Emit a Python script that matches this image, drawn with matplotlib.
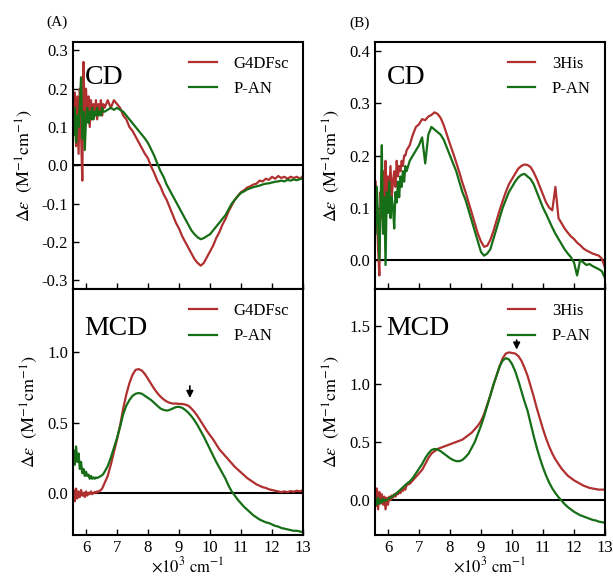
import numpy as np
import matplotlib
matplotlib.use("Agg")
import matplotlib.pyplot as plt

plt.rcParams['font.family'] = ['Liberation Serif', 'DejaVu Serif']
plt.rcParams['mathtext.fontset'] = 'stix'
plt.rcParams['axes.unicode_minus'] = True

# shared wavenumber grid (x10^3 cm^-1)
x_fine = [5.60, 5.64, 5.68, 5.72, 5.76, 5.80, 5.84, 5.88, 5.92, 5.96, 6.00, 6.04, 6.08,
          6.12, 6.16, 6.20, 6.24, 6.28, 6.32, 6.36, 6.40, 6.44, 6.48, 6.52, 6.56]
x_coarse = [round(6.6 + 0.1 * i, 1) for i in range(65)]
wavenumber = x_fine + x_coarse

# (A) CD
cd_g4dfsc = [0.14, 0.19, 0.05, 0.18, 0.03, 0.20, 0.08, -0.04, 0.27, 0.10, 0.20, 0.12, 0.18,
             0.10, 0.17, 0.12, 0.16, 0.13, 0.17, 0.12, 0.16, 0.14, 0.17, 0.13, 0.16,
             0.15, 0.17, 0.15, 0.17, 0.16, 0.15, 0.13, 0.12, 0.10, 0.09, 0.075, 0.06, 0.045, 0.03,
             0.018, -0.003, -0.02, -0.04, -0.055, -0.075, -0.09, -0.11, -0.13, -0.15, -0.165,
             -0.185, -0.20, -0.215, -0.23, -0.245, -0.255, -0.262, -0.255, -0.24, -0.225,
             -0.21, -0.19, -0.175, -0.155, -0.14, -0.12, -0.105, -0.09, -0.08, -0.07,
             -0.065, -0.058, -0.055, -0.05, -0.048, -0.04, -0.042, -0.035, -0.038, -0.03,
             -0.035, -0.028, -0.033, -0.03, -0.035, -0.03, -0.033, -0.03, -0.035, -0.028]
cd_pan_a = [0.08, 0.15, 0.06, 0.13, 0.10, 0.16, 0.23, 0.07, 0.14, 0.04, 0.12, 0.15, 0.11,
            0.14, 0.12, 0.15, 0.12, 0.14, 0.13, 0.15, 0.13, 0.14, 0.13, 0.15, 0.14,
            0.14, 0.145, 0.15, 0.145, 0.15, 0.145, 0.14, 0.13, 0.12, 0.11, 0.10, 0.09, 0.08, 0.07,
            0.058, 0.042, 0.025, 0.005, -0.015, -0.03, -0.05, -0.065, -0.08, -0.095, -0.11,
            -0.125, -0.14, -0.155, -0.17, -0.18, -0.188, -0.193, -0.19, -0.185, -0.18,
            -0.17, -0.16, -0.15, -0.14, -0.13, -0.115, -0.10, -0.09, -0.08, -0.072,
            -0.068, -0.063, -0.06, -0.057, -0.055, -0.053, -0.05, -0.048, -0.047, -0.045,
            -0.043, -0.042, -0.04, -0.042, -0.038, -0.04, -0.037, -0.039, -0.036, -0.035]

# (B) CD
cd_3his = [0.15, 0.10, 0.02, -0.03, 0.13, 0.08, 0.17, 0.10, 0.19, 0.12, 0.16, 0.13, 0.18,
           0.12, 0.15, 0.17, 0.14, 0.19, 0.16, 0.18, 0.17, 0.19, 0.18, 0.20, 0.20,
           0.21, 0.22, 0.24, 0.255, 0.26, 0.27, 0.268, 0.275, 0.278, 0.283, 0.28, 0.272, 0.258, 0.24,
           0.222, 0.205, 0.187, 0.168, 0.148, 0.13, 0.11, 0.09, 0.07, 0.05, 0.035,
           0.025, 0.027, 0.038, 0.055, 0.075, 0.095, 0.113, 0.13, 0.145, 0.155,
           0.165, 0.175, 0.18, 0.183, 0.182, 0.178, 0.168, 0.155, 0.14, 0.125,
           0.11, 0.10, 0.095, 0.14, 0.08, 0.07, 0.06, 0.052, 0.045, 0.04,
           0.033, 0.028, 0.022, 0.018, 0.015, 0.012, 0.01, 0.008, 0.002, -0.015]
cd_pan_b = [0.05, 0.14, 0.08, 0.00, 0.10, 0.22, 0.05, 0.12, -0.01, 0.13, 0.09, 0.15, 0.08,
            0.12, 0.10, 0.06, 0.13, 0.11, 0.15, 0.12, 0.16, 0.14, 0.17, 0.15, 0.18,
            0.17, 0.19, 0.20, 0.21, 0.22, 0.235, 0.185, 0.24, 0.255, 0.25, 0.245, 0.24, 0.23, 0.215,
            0.20, 0.185, 0.17, 0.15, 0.13, 0.115, 0.095, 0.075, 0.055, 0.035, 0.015,
            0.008, 0.012, 0.02, 0.04, 0.06, 0.08, 0.10, 0.115, 0.13, 0.14,
            0.15, 0.158, 0.163, 0.165, 0.16, 0.155, 0.145, 0.13, 0.115, 0.10,
            0.088, 0.075, 0.062, 0.05, 0.04, 0.03, 0.02, 0.012, 0.005, -0.005,
            -0.03, 0.0, -0.005, -0.01, -0.008, -0.012, -0.015, -0.018, -0.022, -0.035]

# (A) MCD
mcd_g4dfsc = [0.02, -0.06, 0.03, -0.04, 0.01, -0.03, 0.02, -0.02, 0.0, -0.03, 0.01, -0.02, 0.0,
              -0.01, 0.01, -0.01, 0.0, 0.005, 0.0, 0.01, 0.005, 0.015, 0.02, 0.03, 0.05,
              0.07, 0.12, 0.20, 0.29, 0.38, 0.48, 0.60, 0.70, 0.78, 0.84, 0.875, 0.88, 0.87, 0.845,
              0.81, 0.775, 0.74, 0.71, 0.685, 0.665, 0.65, 0.64, 0.635, 0.635, 0.633,
              0.632, 0.628, 0.62, 0.60, 0.575, 0.545, 0.51, 0.475, 0.44, 0.41,
              0.38, 0.345, 0.31, 0.285, 0.26, 0.235, 0.21, 0.185, 0.165, 0.145,
              0.125, 0.105, 0.09, 0.075, 0.06, 0.05, 0.04, 0.035, 0.025, 0.02,
              0.015, 0.01, 0.005, 0.01, 0.005, 0.012, 0.008, 0.015, 0.01, 0.02]
mcd_pan_a = [0.30, 0.20, 0.33, 0.22, 0.28, 0.17, 0.22, 0.14, 0.17, 0.12, 0.15, 0.12, 0.13,
             0.10, 0.12, 0.10, 0.11, 0.10, 0.11, 0.105, 0.11, 0.115, 0.12, 0.125, 0.135,
             0.15, 0.19, 0.25, 0.32, 0.39, 0.47, 0.56, 0.62, 0.66, 0.69, 0.705, 0.71, 0.705, 0.69,
             0.675, 0.66, 0.64, 0.62, 0.60, 0.59, 0.585, 0.59, 0.60, 0.61, 0.612,
             0.605, 0.59, 0.57, 0.545, 0.515, 0.48, 0.44, 0.40, 0.355, 0.31,
             0.265, 0.22, 0.18, 0.14, 0.10, 0.05, 0.01, -0.02, -0.05, -0.075,
             -0.10, -0.12, -0.14, -0.16, -0.175, -0.19, -0.20, -0.21, -0.215, -0.225,
             -0.235, -0.24, -0.25, -0.255, -0.26, -0.265, -0.27, -0.27, -0.275, -0.28]

# (B) MCD
mcd_3his = [-0.05, 0.10, -0.08, 0.07, -0.03, 0.05, -0.04, 0.03, -0.08, 0.02, -0.04, 0.03, 0.0,
            0.04, 0.02, 0.05, 0.03, 0.06, 0.05, 0.07, 0.06, 0.09, 0.08, 0.10, 0.09,
            0.13, 0.14, 0.17, 0.20, 0.23, 0.26, 0.31, 0.36, 0.40, 0.42, 0.44, 0.45, 0.46, 0.47,
            0.48, 0.49, 0.50, 0.51, 0.52, 0.54, 0.56, 0.58, 0.61, 0.64, 0.68,
            0.74, 0.82, 0.90, 0.99, 1.07, 1.15, 1.22, 1.26, 1.27, 1.265,
            1.26, 1.24, 1.20, 1.14, 1.07, 0.98, 0.89, 0.79, 0.70, 0.61,
            0.53, 0.46, 0.40, 0.35, 0.31, 0.27, 0.24, 0.21, 0.19, 0.17,
            0.155, 0.14, 0.125, 0.115, 0.105, 0.10, 0.095, 0.09, 0.09, 0.09]
mcd_pan_b = [0.0, -0.04, 0.02, -0.03, 0.0, -0.02, 0.01, -0.01, 0.0, 0.0, 0.01, 0.015, 0.02,
             0.03, 0.035, 0.045, 0.05, 0.06, 0.07, 0.08, 0.09, 0.10, 0.11, 0.12, 0.13,
             0.14, 0.16, 0.19, 0.23, 0.27, 0.31, 0.36, 0.40, 0.43, 0.44, 0.435, 0.42, 0.40, 0.38,
             0.36, 0.345, 0.335, 0.335, 0.345, 0.37, 0.40, 0.45, 0.50, 0.57, 0.64,
             0.72, 0.81, 0.90, 0.99, 1.07, 1.15, 1.20, 1.22, 1.21, 1.17,
             1.11, 1.03, 0.94, 0.85, 0.77, 0.66, 0.55, 0.45, 0.36, 0.28,
             0.21, 0.15, 0.10, 0.06, 0.025, -0.005, -0.035, -0.06, -0.08, -0.10,
             -0.115, -0.13, -0.14, -0.15, -0.16, -0.17, -0.175, -0.185, -0.19, -0.195]

labels_a = ['G4DFsc', 'P-AN']
labels_b = ['3His', 'P-AN']
xticks = [6, 7, 8, 9, 10, 11, 12, 13]

RED = '#b02f2f'
GREEN = '#166e16'

fig = plt.figure(figsize=(6.13, 5.79), dpi=100)
W = 230 / 613
H_top = 247 / 579
H_bot = 246 / 579
axA1 = fig.add_axes([73 / 613, 1 - 289 / 579, W, H_top])
axA2 = fig.add_axes([73 / 613, 1 - 535 / 579, W, H_bot])
axB1 = fig.add_axes([375 / 613, 1 - 289 / 579, W, H_top])
axB2 = fig.add_axes([375 / 613, 1 - 535 / 579, W, H_bot])

panels = [
    (axA1, cd_g4dfsc, cd_pan_a, labels_a, (-0.323, 0.322), [-0.3, -0.2, -0.1, 0.0, 0.1, 0.2, 0.3], 'CD', False),
    (axA2, mcd_g4dfsc, mcd_pan_a, labels_a, (-0.30, 1.45), [0.0, 0.5, 1.0], 'MCD', True),
    (axB1, cd_3his, cd_pan_b, labels_b, (-0.056, 0.418), [0.0, 0.1, 0.2, 0.3, 0.4], 'CD', False),
    (axB2, mcd_3his, mcd_pan_b, labels_b, (-0.30, 1.815), [0.0, 0.5, 1.0, 1.5], 'MCD', True),
]

for ax, r, g, labs, ylim, yt, tag, bottom in panels:
    ax.plot(wavenumber, r, color=RED, lw=1.6, label=labs[0])
    ax.plot(wavenumber, g, color=GREEN, lw=1.6, label=labs[1])
    ax.axhline(0, color='black', lw=1.5, zorder=1)
    ax.set_xlim(5.58, 13.0)
    ax.set_ylim(*ylim)
    ax.set_xticks(xticks)
    ax.set_yticks(yt)
    ax.tick_params(direction='in', length=4, width=1, labelsize=12,
                   top=False, right=False)
    if not bottom:
        ax.tick_params(labelbottom=False)
    else:
        ax.set_xlabel(r'$\times10^3\ \mathrm{cm^{-1}}$', fontsize=12, labelpad=0)
    for s in ax.spines.values():
        s.set_linewidth(1.5)
    ax.set_ylabel(r'$\Delta\varepsilon\ \ (\mathrm{M^{-1}cm^{-1}})$', fontsize=13, labelpad=5)
    ax.text(0.05, 0.855 if not bottom else 0.84, tag, transform=ax.transAxes,
            fontsize=20, ha='left', va='center')
    ax.legend(loc='upper right', frameon=False, fontsize=12,
              handlelength=1.65, handletextpad=1.0, labelspacing=0.55,
              borderaxespad=0.45)

for ax in [axA1, axA2, axB1, axB2]:
    ax.yaxis.set_major_formatter(matplotlib.ticker.FormatStrFormatter('%.1f'))

axA2.annotate('', xy=(9.35, 0.655), xytext=(9.35, 0.78),
              arrowprops=dict(arrowstyle='-|>', color='black', lw=1.2, mutation_scale=10))
axB2.annotate('', xy=(10.15, 1.27), xytext=(10.15, 1.40),
              arrowprops=dict(arrowstyle='-|>', color='black', lw=1.2, mutation_scale=10))

fig.text(57 / 613, 1 - 22 / 579, '(A)', fontsize=11, ha='center', va='center')
fig.text(360 / 613, 1 - 23 / 579, '(B)', fontsize=11, ha='center', va='center')

fig.savefig('out.png', dpi=100)
